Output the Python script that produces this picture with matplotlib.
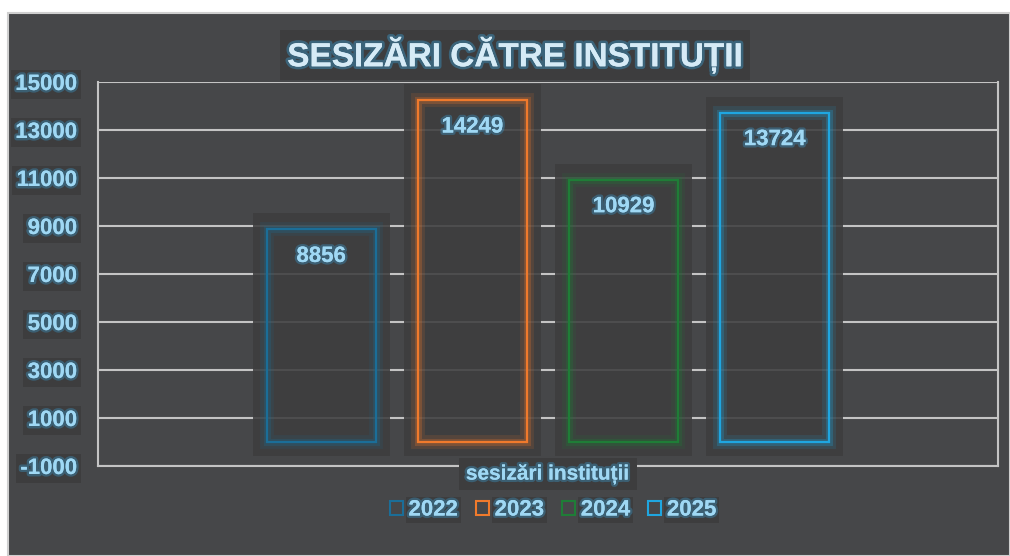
"""Bar chart: sesizări către instituții, 2022-2025 (dark glow style)."""
import matplotlib

matplotlib.use("Agg")
import matplotlib.pyplot as plt
import matplotlib.patheffects as pe
from matplotlib.patches import Rectangle

years = ["2022", "2023", "2024", "2025"]
values = [8856, 14249, 10929, 13724]
colors = ["#1b6e98", "#f07a2c", "#1f7d37", "#1fa6e0"]
category = "sesizări instituții"
title = "SESIZĂRI CĂTRE INSTITUȚII"
yticks = list(range(-1000, 15001, 2000))

BG = "#464749"
BOX = "#3d3d3e"
TXT = "#9fd8f4"
GLOW = "#3a9fd6"

plt.rcParams["font.family"] = ["Liberation Sans", "DejaVu Sans"]
plt.rcParams["font.weight"] = "bold"
plt.rcParams["axes.unicode_minus"] = False

fig = plt.figure(figsize=(10.1, 5.56), dpi=100, facecolor="white")
# dark panel with light border
fig.patches.append(Rectangle((8 / 1010, 0), 1 - 8 / 1010, 1 - 13 / 556, transform=fig.transFigure,
                             facecolor=BG, edgecolor="#cfcfcf", lw=1.5, zorder=-5))

ax = fig.add_axes([98 / 1010, 1 - 466 / 556, 900 / 1010, 384 / 556], zorder=2)
ax.set_facecolor(BG)
ax.set_xlim(-0.5, 0.5)
ax.set_ylim(-1000, 15000)
ax.set_yticks(yticks)
ax.set_xticks([])
ax.grid(axis="y", color="#c4c4c4", lw=1.5, zorder=1)
for s in ["left", "right", "bottom"]:
    ax.spines[s].set_color("#c4c4c4")
    ax.spines[s].set_linewidth(1.5)
ax.spines["top"].set_visible(False)
ax.tick_params(axis="y", length=0, pad=15, labelsize=16, labelcolor=TXT)

glow_txt = [pe.withStroke(linewidth=3.5, foreground=GLOW, alpha=0.35), pe.Normal()]
for lab in ax.get_yticklabels():
    lab.set_fontweight("bold")
    lab.set_bbox(dict(facecolor=BOX, edgecolor="none", pad=3))
    lab.set_path_effects(glow_txt)

step, width = 0.168, 0.121
pad_x, pad_top, pad_bot = 14 / 900, 667, 583
for i, (yr, v, c) in enumerate(zip(years, values, colors)):
    x = (i - 1.5) * step
    # dark backdrop behind each bar
    ax.add_patch(Rectangle((x - width / 2 - pad_x, -pad_bot), width + 2 * pad_x, v + pad_top + pad_bot,
                           facecolor=BOX, alpha=0.88, edgecolor="none", zorder=2))
    ax.bar(x, v, width=width, facecolor="none", edgecolor=c, lw=1.5, zorder=3, label=yr,
           path_effects=[pe.withStroke(linewidth=10, foreground=c, alpha=0.13),
                         pe.withStroke(linewidth=5, foreground=c, alpha=0.25), pe.Normal()])
    ax.annotate(f"{v}", (x, v), xytext=(0, -27), textcoords="offset pixels",
                ha="center", va="center", fontsize=16, fontweight="bold", color=TXT, zorder=5,
                path_effects=glow_txt)

ax.text(0.5, -0.021, category, transform=ax.transAxes, ha="center", va="center", fontsize=15,
        fontweight="bold", color=TXT, zorder=10, clip_on=False,
        bbox=dict(facecolor=BOX, edgecolor="none", pad=5), path_effects=glow_txt)

fig.text(515 / 1010, 1 - 55 / 556, title, ha="center", va="center", fontsize=24, fontweight="bold",
         color="#d6ebf6", bbox=dict(facecolor=BOX, edgecolor="none", pad=5),
         path_effects=[pe.withStroke(linewidth=4, foreground=GLOW, alpha=0.4), pe.Normal()])

handles = [Rectangle((0, 0), 1, 1, facecolor="none", edgecolor=c, lw=1.5) for c in colors]
leg = fig.legend(handles, years, loc="center", bbox_to_anchor=(553 / 1010, 1 - 510 / 556), ncol=4,
                 frameon=False, fontsize=16, handlelength=0.6, handleheight=0.6, handletextpad=0.25,
                 columnspacing=0.8)
for t in leg.get_texts():
    t.set_color(TXT)
    t.set_fontweight("bold")
    t.set_bbox(dict(facecolor=BOX, edgecolor="none", pad=2))
    t.set_path_effects(glow_txt)

fig.savefig("out.png", dpi=100, facecolor="white")
